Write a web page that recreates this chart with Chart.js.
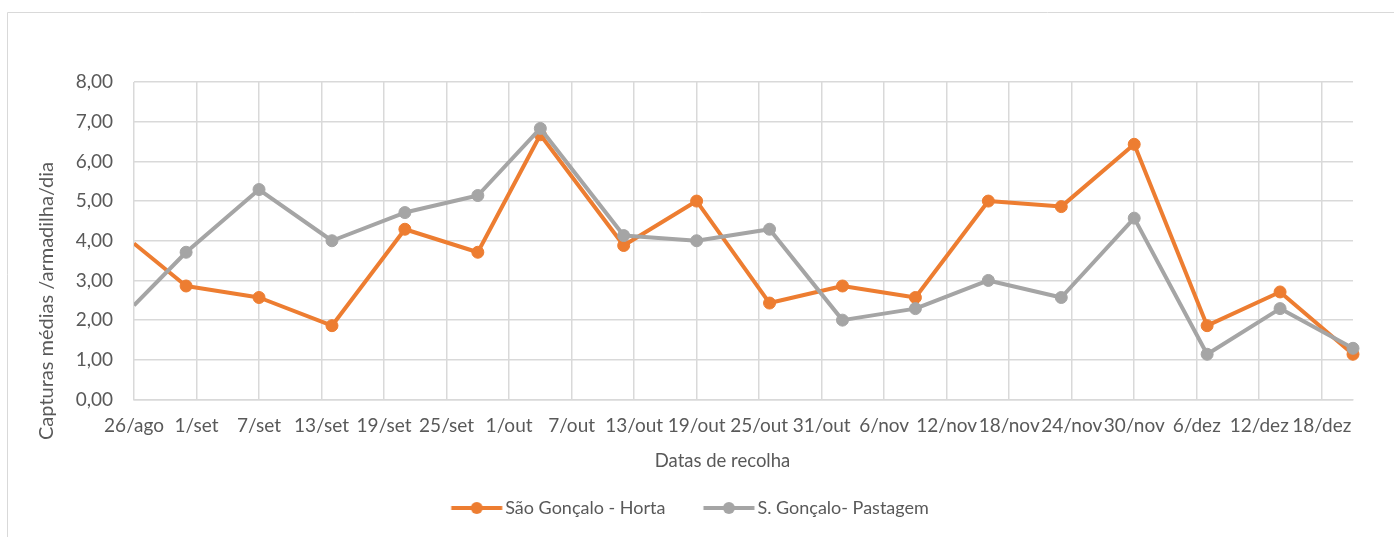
<!DOCTYPE html>
<html lang="pt">
<head>
<meta charset="utf-8">
<title>Capturas médias</title>
<script src="https://cdn.jsdelivr.net/npm/chart.js@4/dist/chart.umd.min.js"></script>
<style>
  body { margin: 0; background: #fff; }
  #caixa { position: relative; width: 1394px; height: 537px; }
</style>
</head>
<body>
<div id="caixa"><canvas id="grafico"></canvas></div>
<script>
// Dias de recolha (dias desde 26/ago)
const diasRecolha = [0, 5, 12, 19, 26, 33, 39, 47, 54, 61, 68, 75, 82, 89, 96, 103, 110, 117];
const horta = [3.93, 2.86, 2.57, 1.86, 4.29, 3.71, 6.67, 3.88, 5.00, 2.43, 2.86, 2.57, 5.00, 4.86, 6.43, 1.86, 2.71, 1.14];
const pastagem = [2.37, 3.71, 5.29, 4.00, 4.71, 5.14, 6.83, 4.13, 4.00, 4.29, 2.00, 2.29, 3.00, 2.57, 4.57, 1.14, 2.29, 1.29];

// Eixo das datas: uma marca a cada 6 dias
const marcasDias = [0, 6, 12, 18, 24, 30, 36, 42, 48, 54, 60, 66, 72, 78, 84, 90, 96, 102, 108, 114];
const marcasTexto = ['26/ago', '1/set', '7/set', '13/set', '19/set', '25/set', '1/out', '7/out', '13/out', '19/out',
  '25/out', '31/out', '6/nov', '12/nov', '18/nov', '24/nov', '30/nov', '6/dez', '12/dez', '18/dez'];

const laranja = '#ED7D31';
const cinza = '#A5A5A5';
const corTexto = '#595959';
const corGrelha = '#D9D9D9';
const fonte = 'Lato';

// Símbolo da legenda: linha com marcador ao meio
function simboloLegenda(cor) {
  const c = document.createElement('canvas');
  c.width = 64;
  c.height = 14;
  const ctx = c.getContext('2d');
  ctx.strokeStyle = cor;
  ctx.lineWidth = 4;
  ctx.beginPath();
  ctx.moveTo(9.5, 7);
  ctx.lineTo(60.5, 7);
  ctx.stroke();
  ctx.fillStyle = cor;
  ctx.beginPath();
  ctx.arc(35, 7, 6, 0, Math.PI * 2);
  ctx.fill();
  return c;
}
const simbolos = [simboloLegenda(laranja), simboloLegenda(cinza)];

function pontos(valores) {
  return diasRecolha.map(function(d, i) { return {x: d, y: valores[i]}; });
}

// Moldura e títulos dos eixos
const extras = {
  id: 'extras',
  beforeDraw(chart) {
    const ctx = chart.ctx;
    ctx.save();
    ctx.strokeStyle = corGrelha;
    ctx.lineWidth = 1;
    ctx.beginPath();
    ctx.moveTo(7.5, chart.height);
    ctx.lineTo(7.5, 12.5);
    ctx.lineTo(chart.width, 12.5);
    ctx.stroke();
    ctx.restore();
  },
  afterDraw(chart) {
    const ctx = chart.ctx;
    const area = chart.chartArea;
    ctx.save();
    ctx.fillStyle = corTexto;
    ctx.textAlign = 'center';
    ctx.textBaseline = 'middle';
    ctx.font = '18.5px ' + fonte;
    ctx.fillText('Datas de recolha', 722.5, area.bottom + 61.5);
    ctx.font = '20px ' + fonte;
    ctx.translate(47, area.bottom - 98.5);
    ctx.rotate(-Math.PI / 2);
    ctx.fillText('Capturas médias /armadilha/dia', 0, 0);
    ctx.restore();
  }
};

const linhaBase = {
  borderWidth: 4,
  pointRadius: function(c) { return c.dataIndex === 0 ? 0 : 6; },
  pointHoverRadius: 6,
  pointBorderWidth: 1,
  borderJoinStyle: 'round',
  tension: 0,
  clip: {left: 0, top: false, right: false, bottom: false}
};

new Chart(document.getElementById('grafico'), {
  type: 'line',
  data: {
    datasets: [
      Object.assign({}, linhaBase, {
        label: 'São Gonçalo - Horta',
        data: pontos(horta),
        borderColor: laranja,
        backgroundColor: laranja,
        order: 1
      }),
      Object.assign({}, linhaBase, {
        label: 'S. Gonçalo- Pastagem',
        data: pontos(pastagem),
        borderColor: cinza,
        backgroundColor: cinza,
        order: 0
      })
    ]
  },
  options: {
    responsive: true,
    maintainAspectRatio: false,
    animation: false,
    layout: { padding: { left: 27, right: 41, top: 82, bottom: 10 } },
    scales: {
      x: {
        type: 'linear',
        min: 0,
        max: 117,
        afterBuildTicks: function(scale) {
          scale.ticks = marcasDias.map(function(v) { return {value: v}; });
        },
        afterFit: function(scale) {
          scale.height = 61.5;
          scale.paddingLeft = 0;
          scale.paddingRight = 0;
        },
        grid: { color: corGrelha, lineWidth: 1.5, drawTicks: false },
        border: { display: true, color: corGrelha, width: 1.5 },
        ticks: {
          autoSkip: false,
          maxRotation: 0,
          padding: 15,
          color: corTexto,
          font: { family: fonte, size: 19 },
          callback: function(v) {
            const i = marcasDias.indexOf(v);
            return i >= 0 ? marcasTexto[i] : '';
          }
        }
      },
      y: {
        min: 0,
        max: 8,
        afterFit: function(scale) {
          scale.width = 107;
          scale.paddingTop = 0;
          scale.paddingBottom = 0;
        },
        grid: { color: corGrelha, lineWidth: 1.5, drawTicks: false },
        border: { display: false },
        ticks: {
          stepSize: 1,
          padding: 21,
          color: corTexto,
          font: { family: fonte, size: 19 },
          callback: function(v) { return v.toFixed(2).replace('.', ','); }
        }
      }
    },
    plugins: {
      tooltip: { enabled: false },
      legend: {
        position: 'bottom',
        labels: {
          usePointStyle: true,
          pointStyleWidth: 45,
          padding: 38,
          color: corTexto,
          font: { family: fonte, size: 18 },
          generateLabels: function(chart) {
            const itens = Chart.defaults.plugins.legend.labels.generateLabels(chart);
            itens.sort(function(a, b) { return a.datasetIndex - b.datasetIndex; });
            itens.forEach(function(it) { it.pointStyle = simbolos[it.datasetIndex]; });
            return itens;
          }
        }
      }
    }
  },
  plugins: [extras]
});
</script>
</body>
</html>
